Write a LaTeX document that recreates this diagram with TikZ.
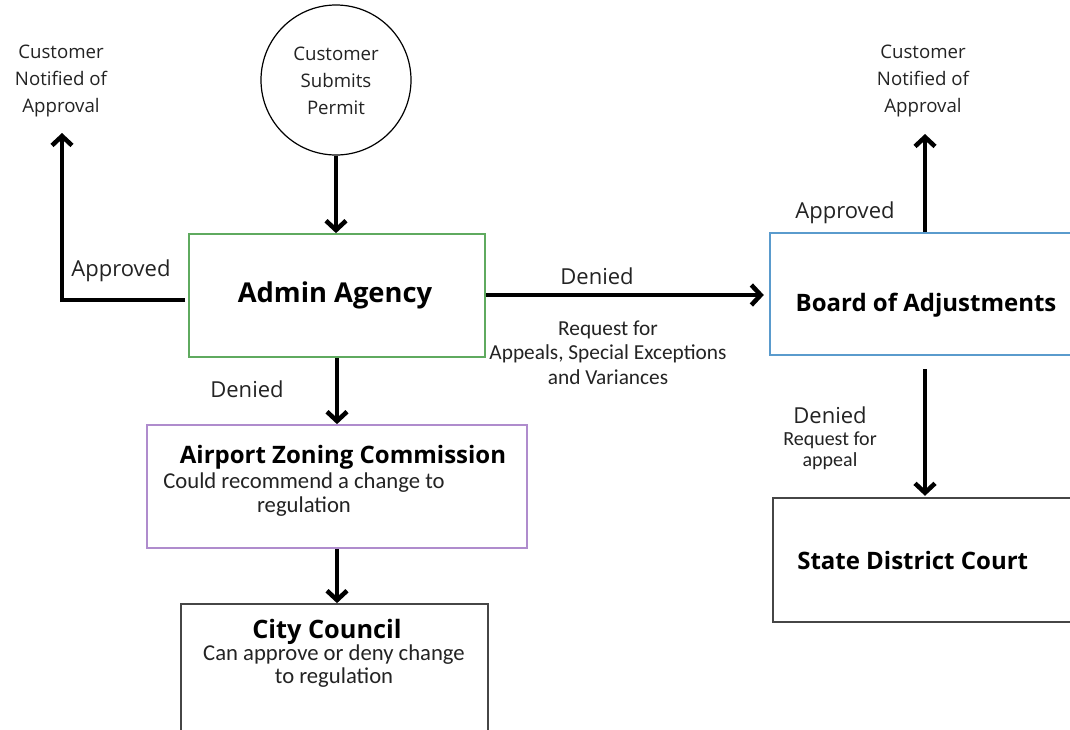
\documentclass[tikz,border=0pt]{standalone}
\usepackage{fontspec}
\setmainfont{Open Sans}
\newfontfamily\cb{Carlito}
\usetikzlibrary{arrows.meta,calc}
\definecolor{boxgreen}{RGB}{95,170,95}
\definecolor{boxblue}{RGB}{90,155,205}
\definecolor{boxpurple}{RGB}{175,140,205}
\definecolor{boxgray}{RGB}{70,70,70}
\definecolor{txt}{RGB}{35,35,35}
\tikzset{
  box/.style={draw, line width=1.3pt, fill=white, inner sep=0pt},
  arr/.style={line width=3.4pt, -{Straight Barb[length=7pt,width=15pt]}},
  lbl/.style={inner sep=0pt, text=txt, font={\fontsize{16.5}{20}\selectfont}},
  note/.style={inner sep=0pt, text=txt, align=center, font={\fontsize{14}{20.25}\selectfont}},
  title/.style={inner sep=0pt, text=black, font={\bfseries\fontsize{18}{22}\selectfont}},
  sub/.style={inner sep=0pt, text=txt, align=center},
}
\begin{document}
\begin{tikzpicture}[x=0.75pt,y=-0.75pt]
\useasboundingbox (0,0) rectangle (1070,729);
\clip (0,0) rectangle (1070,729);
\fill[white] (0,0) rectangle (1070,729);

% shapes
\node[circle, draw, line width=0.9pt, minimum size=112.5pt, inner sep=0pt] (start) at (336,80) {};
\node[note] (starttxt) at (336,81) {Customer\\Submits\\Permit};

\node[box, draw=boxgreen, minimum width=222pt, minimum height=92.25pt] (admin) at (337,295.5) {};
\node[title, font={\bfseries\fontsize{20.5}{24}\selectfont}] (admintxt) at (335,295) {Admin Agency};

\node[box, draw=boxblue, minimum width=228.75pt, minimum height=91.5pt] (board) at (922.5,294) {};
\node[title] (boardtxt) at (926,305) {Board of Adjustments};

\node[box, draw=boxpurple, minimum width=285pt, minimum height=92.25pt] (azc) at (337,486.5) {};
\node[title] (azctxt) at (343,457) {Airport Zoning Commission};
\node[sub, font={\cb\fontsize{17}{18}\selectfont}] (azcsub) at (304,495) {Could recommend a change to\\regulation};

\node[box, draw=boxgray, minimum width=230.25pt, minimum height=98.25pt] (city) at (334.5,669.5) {};
\node[title, font={\bfseries\fontsize{19}{22}\selectfont}] (citytxt) at (327,632) {City Council};
\node[sub, font={\cb\fontsize{17}{17.25}\selectfont}] (citysub) at (334,666.5) {Can approve or deny change\\to regulation};

\node[box, draw=boxgray, minimum width=226.5pt, minimum height=93pt] (state) at (924,560) {};
\node[title, anchor=west] (statetxt) at (797,560) {State District Court};

% free texts
\node[note] (notifyL) at (61,81) {Customer\\Notified of\\Approval};
\node[note] (notifyR) at (923,81) {Customer\\Notified of\\Approval};

\node[lbl] (apprL) at (121,271) {Approved};
\node[lbl] (apprR) at (845,213) {Approved};
\node[lbl] (denR) at (597,276) {Denied};
\node[lbl] (denD) at (247,389) {Denied};
\node[lbl] (denS) at (830,415) {Denied};

\node[sub, font={\cb\fontsize{16}{18.5}\selectfont}] (reqApp) at (608,352.5) {Request for\\Appeals, Special Exceptions\\and Variances};
\node[sub, font={\cb\fontsize{15}{15.75}\selectfont}] (reqAppeal) at (830,451) {Request for\\appeal};

% arrow end points
\coordinate (tipL) at (62,133);
\coordinate (tipR) at (925,134);

% connectors
\draw[arr] (start.south) -- (start.south |- admin.north);
\draw[line width=3.4pt] (185,300) -- (62,300);
\draw[arr] (62,302) -- (tipL);
\draw[arr, shorten >=4pt] (admin.east |- 0,295) -- (board.west |- 0,295);
\draw[arr] (tipR |- board.north) -- (tipR);
\draw[arr, shorten <=10pt, shorten >=1pt] (tipR |- board.south) -- (tipR |- state.north);
\draw[arr] (admin.south) -- (admin.south |- azc.north);
\draw[arr] (azc.south) -- (azc.south |- city.north);
\end{tikzpicture}
\end{document}
